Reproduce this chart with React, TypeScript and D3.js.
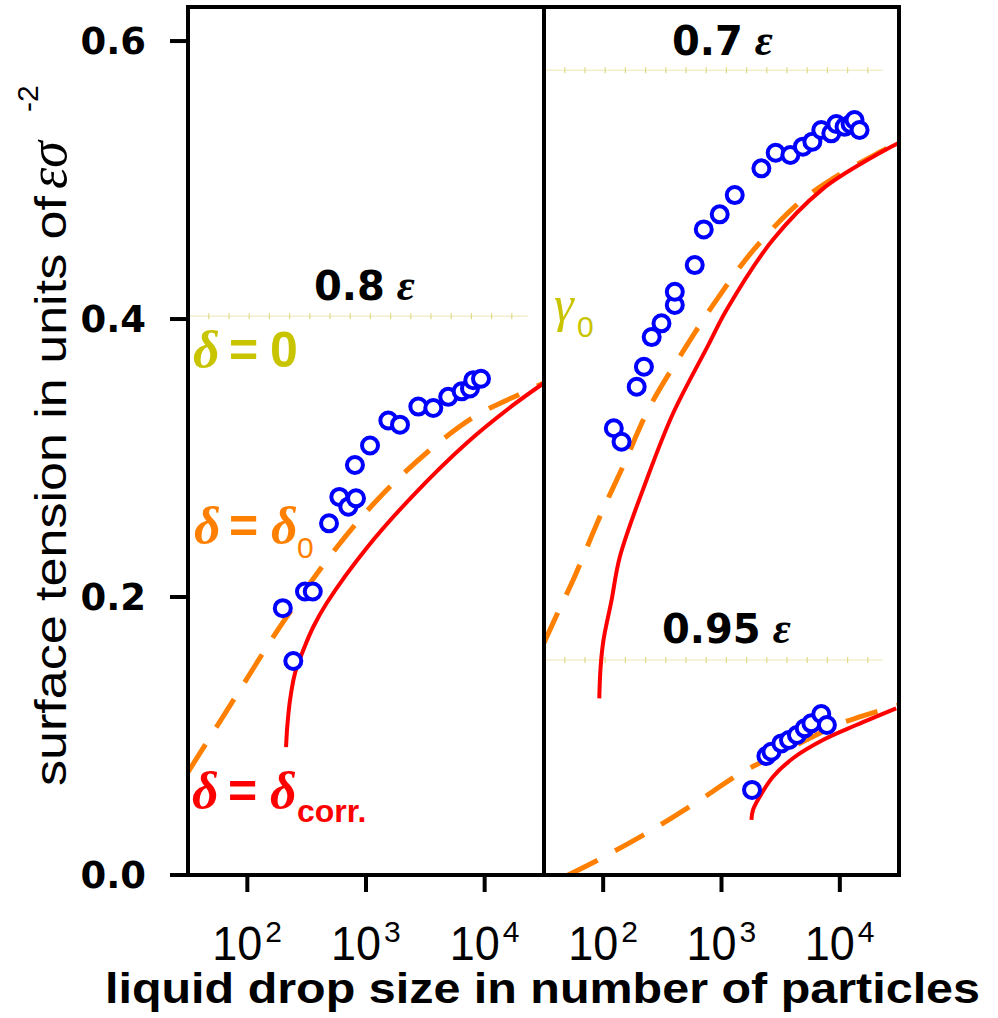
import React from 'react';
import * as d3 from 'd3';

// Axis ticks
const yTicks = [0, 0.2, 0.4, 0.6];
const xTickExps = [2, 3, 4];

// Panel A (0.8 ε): simulation points
const simN08 = [199, 244, 306, 356, 488, 596, 710, 824, 807, 1081, 1542, 1934, 2760, 3690, 4930, 6400, 7520, 8020, 9310];
const simG08 = [0.192, 0.154, 0.204, 0.204, 0.253, 0.272, 0.265, 0.271, 0.295, 0.309, 0.327, 0.324, 0.337, 0.336, 0.344, 0.348, 0.350, 0.356, 0.357];
// Panel A: δ = δ0 curve
const d0N08 = [31.6, 83.4, 200, 570, 1312, 3266, 8280, 21040, 31623];
const d0G08 = [0.074, 0.131, 0.182, 0.236, 0.272, 0.304, 0.330, 0.347, 0.354];
// Panel A: δ = δcorr curve
const dcN08 = [212, 217, 229, 252.5, 296.5, 360, 467, 1014, 2490, 7100, 17330, 31623];
const dcG08 = [0.092, 0.1067, 0.1259, 0.1453, 0.1619, 0.1786, 0.1957, 0.2353, 0.273, 0.311, 0.338, 0.354];

// Panel B (0.7 ε)
const simN07 = [123, 143, 192, 221, 257, 311, 403, 403, 594, 708, 966, 1294, 2173, 2870, 3820, 4875, 5860, 6970, 8470, 9330, 10960, 12330, 13310, 14680];
const simG07 = [0.3214, 0.3117, 0.3513, 0.3657, 0.387, 0.3969, 0.4101, 0.4196, 0.4388, 0.4645, 0.4753, 0.4892, 0.5084, 0.5196, 0.518, 0.524, 0.5276, 0.536, 0.5336, 0.5403, 0.5383, 0.5403, 0.5432, 0.536];
const d0N07 = [31.6, 41.5, 55.6, 94, 147, 248, 509, 912, 1836, 4571, 8690, 21630, 31330];
const d0G07 = [0.167, 0.189, 0.212, 0.258, 0.294, 0.337, 0.381, 0.414, 0.449, 0.484, 0.501, 0.520, 0.527];
const dcN07 = [92.7, 95.2, 100.6, 117.8, 138.4, 232.6, 390, 771, 1102, 2705, 7145, 18880, 31330];
const dcG07 = [0.1271, 0.1499, 0.169, 0.1978, 0.229, 0.2842, 0.3322, 0.381, 0.4065, 0.4568, 0.4935, 0.5165, 0.5266];

// Panel B (0.95 ε)
const simN095 = [1811, 2395, 2641, 3206, 3716, 4341, 5046, 5745, 6970, 7775];
const simG095 = [0.0612, 0.0856, 0.0887, 0.0947, 0.0971, 0.1007, 0.1055, 0.1091, 0.1158, 0.1079];
const d0N095 = [50.5, 90.3, 234, 618, 1510, 3770, 9400, 14690, 31300];
const d0G095 = [0, 0.0108, 0.0302, 0.0525, 0.0741, 0.091, 0.1079, 0.1137, 0.1223];
const dcN095 = [1791, 1846, 2103, 2725, 4018, 7190, 13770, 29920];
const dcG095 = [0.0396, 0.0468, 0.0563, 0.0707, 0.084, 0.0971, 0.1079, 0.1199];

// Bulk surface tensions γ0
const gamma0 = { left08: 0.402, right07: 0.579, right095: 0.1547 };

const BLUE = '#0000ff';
const ORANGE = '#ff8000';
const RED = '#ff0000';
const OLIVE = '#c8c400';
const WIDE = "'DejaVu Sans', Verdana, sans-serif";
const SERIF = "'Liberation Serif', 'DejaVu Serif', serif";
const SANS = "'Liberation Sans', Arial, sans-serif";

const zip = (a: number[], b: number[]) => a.map((v, i) => [v, b[i]] as [number, number]);

export default function App() {
  const top = 7;
  const bottom = 875;
  const leftX0 = 188;
  const mid = 544;
  const rightX1 = 899;

  const xL = d3.scaleLog().domain([10 ** 1.5, 10 ** 4.5]).range([leftX0, mid]);
  const xR = d3.scaleLog().domain([10 ** 1.5, 10 ** 4.5]).range([mid, rightX1]);
  const y = d3.scaleLinear().domain([0, 0.6245]).range([bottom, top]);

  const lineFor = (x: d3.ScaleLogarithmic<number, number>) =>
    d3
      .line<[number, number]>()
      .x((d) => x(d[0]))
      .y((d) => y(d[1]))
      .curve(d3.curveCatmullRom.alpha(0.5));

  const lineL = lineFor(xL);
  const lineR = lineFor(xR);

  const circles = (x: d3.ScaleLogarithmic<number, number>, ns: number[], gs: number[], key: string) =>
    zip(ns, gs).map((d, i) => (
      <circle key={key + i} cx={x(d[0])} cy={y(d[1])} r={8} fill="#fff" stroke={BLUE} strokeWidth={4} />
    ));

  const gammaLine = (x1: number, x2: number, g: number, key: string) => (
    <g key={key}>
      <line x1={x1} x2={x2} y1={y(g)} y2={y(g)} stroke="#f2f0cc" strokeWidth={1.5} />
      <line x1={x1} x2={x2} y1={y(g)} y2={y(g)} stroke="#dedA88" strokeWidth={6} strokeDasharray="1.2 19" />
    </g>
  );

  const dashed = { fill: 'none', stroke: ORANGE, strokeWidth: 5, strokeDasharray: '33 20' } as const;
  const solid = { fill: 'none', stroke: RED, strokeWidth: 4 } as const;

  return (
    <svg width={998} height={1018} style={{ position: 'absolute', left: 0, top: 0, background: '#fff' }}>
      <defs>
        <clipPath id="clipL">
          <rect x={leftX0} y={top} width={mid - leftX0} height={bottom - top} />
        </clipPath>
        <clipPath id="clipR">
          <rect x={mid} y={top} width={rightX1 - mid} height={bottom - top} />
        </clipPath>
      </defs>
      <rect x={0} y={0} width={998} height={1018} fill="#fff" />

      {/* bulk γ0 reference lines */}
      {gammaLine(leftX0, 528, gamma0.left08, 'g08')}
      {gammaLine(mid, 883, gamma0.right07, 'g07')}
      {gammaLine(mid, 883, gamma0.right095, 'g095')}

      {/* theory curves */}
      <g clipPath="url(#clipL)">
        <path d={lineL(zip(d0N08, d0G08)) || ''} {...dashed} />
        <path d={lineL(zip(dcN08, dcG08)) || ''} {...solid} />
      </g>
      <g clipPath="url(#clipR)">
        <path d={lineR(zip(d0N07, d0G07)) || ''} {...dashed} />
        <path d={lineR(zip(dcN07, dcG07)) || ''} {...solid} />
        <path d={lineR(zip(d0N095, d0G095)) || ''} {...dashed} />
        <path d={lineR(zip(dcN095, dcG095)) || ''} {...solid} />
      </g>

      {/* simulation data */}
      {circles(xL, simN08, simG08, 's08')}
      {circles(xR, simN07, simG07, 's07')}
      {circles(xR, simN095, simG095, 's095')}

      {/* frame */}
      <rect x={leftX0} y={top} width={rightX1 - leftX0} height={bottom - top} fill="none" stroke="#000" strokeWidth={4} />
      <line x1={mid} x2={mid} y1={top} y2={bottom} stroke="#000" strokeWidth={4} />

      {/* y axis */}
      {yTicks.map((t) => (
        <g key={'yt' + t}>
          <line x1={170} x2={leftX0} y1={y(t)} y2={y(t)} stroke="#000" strokeWidth={4} />
          <text x={146} y={y(t)} dy="0.36em" textAnchor="end" fontFamily={WIDE} fontWeight="bold" fontSize={37}>
            {d3.format('.1f')(t)}
          </text>
        </g>
      ))}

      {/* x axes */}
      {[xL, xR].map((x, pi) =>
        xTickExps.map((e) => (
          <g key={'xt' + pi + e}>
            <line x1={x(10 ** e)} x2={x(10 ** e)} y1={bottom} y2={892} stroke="#000" strokeWidth={4} />
            <text x={x(10 ** e) + 15} y={960} textAnchor="end" fontFamily={SANS} fontSize={48} textLength={50} lengthAdjust="spacingAndGlyphs">
              10
            </text>
            <text x={x(10 ** e) + 18} y={942} fontFamily={SANS} fontSize={30}>
              {e}
            </text>
          </g>
        ))
      )}

      {/* axis titles */}
      <text x={105} y={1003} fontFamily={SANS} fontWeight="bold" fontSize={42} textLength={875} lengthAdjust="spacingAndGlyphs">
        liquid drop size in number of particles
      </text>
      <g transform="translate(66,786) rotate(-90)">
        <text x={0} y={0} fontFamily={SANS} fontSize={44} textLength={590} lengthAdjust="spacingAndGlyphs">
          surface tension in units of
        </text>
        <text x={597} y={0} fontFamily={SERIF} fontStyle="italic" fontSize={54}>
          εσ
        </text>
        <text x={674} y={-28} fontFamily={SANS} fontSize={30}>
          -2
        </text>
      </g>

      {/* panel labels */}
      <text x={314} y={300} fontFamily={WIDE} fontWeight="bold" fontSize={40}>
        0.8
        <tspan dx={12} fontFamily={SERIF} fontStyle="italic" fontSize={44}>ε</tspan>
      </text>
      <text x={672} y={55} fontFamily={WIDE} fontWeight="bold" fontSize={40}>
        0.7
        <tspan dx={12} fontFamily={SERIF} fontStyle="italic" fontSize={44}>ε</tspan>
      </text>
      <text x={662} y={643} fontFamily={WIDE} fontWeight="bold" fontSize={40}>
        0.95
        <tspan dx={12} fontFamily={SERIF} fontStyle="italic" fontSize={44}>ε</tspan>
      </text>

      {/* curve legends */}
      <g fill={OLIVE}>
        <text x={193} y={367} fontFamily={SERIF} fontStyle="italic" fontWeight="bold" fontSize={52}>δ</text>
        <text x={229} y={367} fontFamily={SANS} fontWeight="bold" fontSize={50}>=</text>
        <text x={270} y={367} fontFamily={SANS} fontWeight="bold" fontSize={50}>0</text>
      </g>
      <g fill={ORANGE}>
        <text x={194} y={543} fontFamily={SERIF} fontStyle="italic" fontWeight="bold" fontSize={52}>δ</text>
        <text x={229} y={543} fontFamily={SANS} fontWeight="bold" fontSize={50}>=</text>
        <text x={271} y={543} fontFamily={SERIF} fontStyle="italic" fontWeight="bold" fontSize={52}>δ</text>
        <text x={297} y={558} fontFamily={SANS} fontSize={30}>0</text>
      </g>
      <g fill={RED}>
        <text x={192} y={808} fontFamily={SERIF} fontStyle="italic" fontWeight="bold" fontSize={52}>δ</text>
        <text x={228} y={808} fontFamily={SANS} fontWeight="bold" fontSize={50}>=</text>
        <text x={270} y={808} fontFamily={SERIF} fontStyle="italic" fontWeight="bold" fontSize={52}>δ</text>
        <text x={297} y={822} fontFamily={SANS} fontWeight="bold" fontSize={32}>corr.</text>
      </g>
      <g fill={OLIVE}>
        <text x={554} y={321} fontFamily={SERIF} fontStyle="italic" fontSize={50}>γ</text>
        <text x={577} y={337} fontFamily={SANS} fontSize={30}>0</text>
      </g>
    </svg>
  );
}
